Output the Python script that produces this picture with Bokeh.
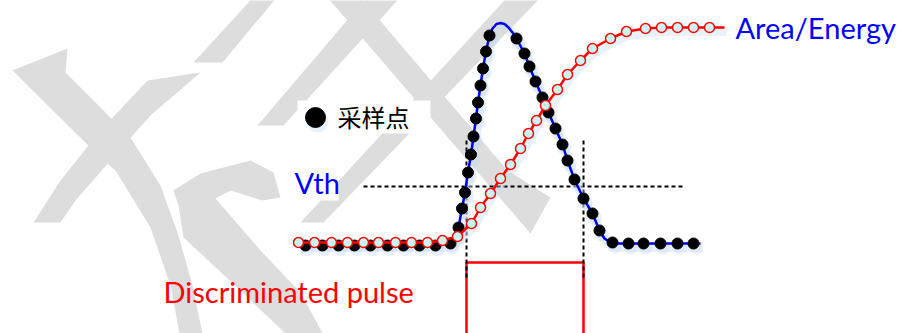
from bokeh.plotting import figure
from bokeh.models import Range1d
from bokeh.core.properties import value
from bokeh.embed import file_html
from bokeh.resources import INLINE

# ---- data (time t, amplitude a) ----
# sampled points of the pulse
sample_t = [305, 322, 338, 354, 370, 387, 403, 419, 435, 450,
            458, 461.5, 464.5, 467.5, 470.5, 473, 475.5, 477.5, 480, 482.5, 485.5, 489,
            516, 524, 529, 535, 542, 548, 555, 562, 567, 574, 583, 592, 599,
            612, 628, 643, 660, 677, 693]
sample_a = [-2, -2, -2, -2, -2, -2, -2, -2, -2, 0,
            16, 35, 51, 71, 89, 107, 125, 141, 158, 175, 192, 208,
            205, 190, 177, 162, 146, 131, 115, 99, 83, 64, 45, 30, 13,
            1, 0, 0, 0, 0, 0]

# continuous pulse waveform
pulse_t = [298, 450, 454, 458, 461.5, 464.5, 467.5, 470.5, 473, 475.5, 477.5, 480,
           482.5, 485.5, 489, 492, 496, 500, 504, 508, 512, 516, 524, 529, 535, 542,
           548, 555, 562, 567, 574, 583, 592, 599, 604, 610, 616, 700]
pulse_a = [0, 0, 4, 16, 35, 51, 71, 89, 107, 125, 141, 158,
           175, 192, 208, 215, 219.5, 220.5, 219.5, 216, 211, 205, 190, 177, 162, 146,
           131, 115, 99, 83, 64, 45, 30, 13, 5, 1, 0, 0]

# integrated area / energy
area_t = [298, 314, 331, 347, 363, 378, 395, 411, 427, 442, 457, 471, 480, 490, 500,
          510, 520, 528, 536, 545, 557, 567, 580, 592, 610, 626, 645, 661, 677, 693, 709]
area_a = [1, 1, 1, 1, 1, 1, 1, 1, 1, 3, 7, 20, 36, 50, 65,
          79, 95, 110, 123, 138, 154, 169, 183, 195, 205, 212, 215, 216, 216, 216, 216]
area_line_t = area_t + [724]
area_line_a = area_a + [216]

# threshold and discriminator
vth_level = 57
vth_span = [363, 683]
cross_t = [466, 583]
marker_top, marker_bottom = 103, -35
disc_high, disc_low = -19, -100

# background watermark strokes (light grey)
wm_xs = [
    [12, 67, 65, 130, 160, 178, 192, 203, 180, 170, 150, 115, 100],
    [147, 200, 150, 110, 75, 60, 33, 60, 100],
    [173, 200, 250, 273, 280, 262, 230, 215, 260, 300, 325, 290, 240, 183, 178],
    [259, 282, 222, 193],
    [321, 354, 507, 550, 530],
    [513, 547, 323, 300],
    [372, 406, 283, 257],
]
wm_ys = [
    [173, 195, 171, 106, 58, 8, -42, -95, -95, -42, 16, 73, 86],
    [163, 171, 128, 83, 43, 21, 21, 63, 113],
    [53, 70, 83, 71, 46, 43, 53, 45, -7, -49, -95, -95, -47, 6, 38],
    [253, 253, 181, 181],
    [253, 253, 73, 46, 10],
    [253, 253, 21, 21],
    [253, 253, 118, 118],
]

p = figure(width=899, height=333, output_backend="svg", toolbar_location=None,
           x_range=Range1d(0, 899), y_range=Range1d(-90, 243),
           min_border=0, outline_line_color=None, background_fill_color="white")
p.axis.visible = False
p.grid.visible = False

p.patches(wm_xs, wm_ys, fill_color="#dddddd", line_color=None)

# white label boxes
p.quad(left=[297, 286], right=[430, 338], bottom=[110, 43], top=[143, 75],
       fill_color="white", line_color=None)

# discriminated pulse
p.line([cross_t[0], cross_t[0], cross_t[1], cross_t[1]],
       [disc_low, disc_high, disc_high, disc_low], line_color="#ff0000", line_width=2.5)

# dashed markers
p.line(vth_span, [vth_level, vth_level], line_color="black", line_width=2, line_dash="4 3")
for ct in cross_t:
    p.line([ct, ct], [marker_top, marker_bottom], line_color="black", line_width=2, line_dash="4 3")

# soft shadows under the curves
shadow = "#c9dcf0"
p.line([t + 2 for t in pulse_t], [a - 4 for a in pulse_a], line_color=shadow,
       line_width=9, line_alpha=0.4)
p.scatter([t + 2 for t in sample_t], [a - 4 for a in sample_a], size=14,
          fill_color=shadow, line_color=None, fill_alpha=0.4)
p.line([t + 2 for t in area_line_t], [a - 4 for a in area_line_a], line_color=shadow,
       line_width=9, line_alpha=0.4)
p.scatter([317], [122], size=22, fill_color=shadow, line_color=None, fill_alpha=0.4)

# pulse
p.line(pulse_t, pulse_a, line_color="#0000ff", line_width=2.5)
p.scatter(sample_t, sample_a, size=11, fill_color="black", line_color="black")

# area
p.line(area_line_t, area_line_a, line_color="#ff0000", line_width=2.5)
p.scatter(area_t, area_a, size=10, fill_color="#ccf7f7", line_color="#ff0000", line_width=1.5)

# legend marker and labels
p.scatter([315], [126], size=20, fill_color="black", line_color="black")
p.text([337], [127], text=["采样点"], text_font=value("Noto Sans CJK SC"),
       text_font_size=value("24px"), text_color="black", text_baseline="middle")
p.text([294], [61], text=["Vth"], text_font=value("Lato"), text_font_size=value("29px"),
       text_color="#0000ff", text_baseline="alphabetic")
p.text([735], [216], text=["Area/Energy"], text_font=value("Lato"), text_font_size=value("29px"),
       text_color="#0000ff", text_baseline="alphabetic")
p.text([163], [-48], text=["Discriminated pulse"], text_font=value("Lato"),
       text_font_size=value("29px"), text_color="#ff0000", text_baseline="alphabetic")

open("out.html", "w").write(file_html(p, INLINE))
